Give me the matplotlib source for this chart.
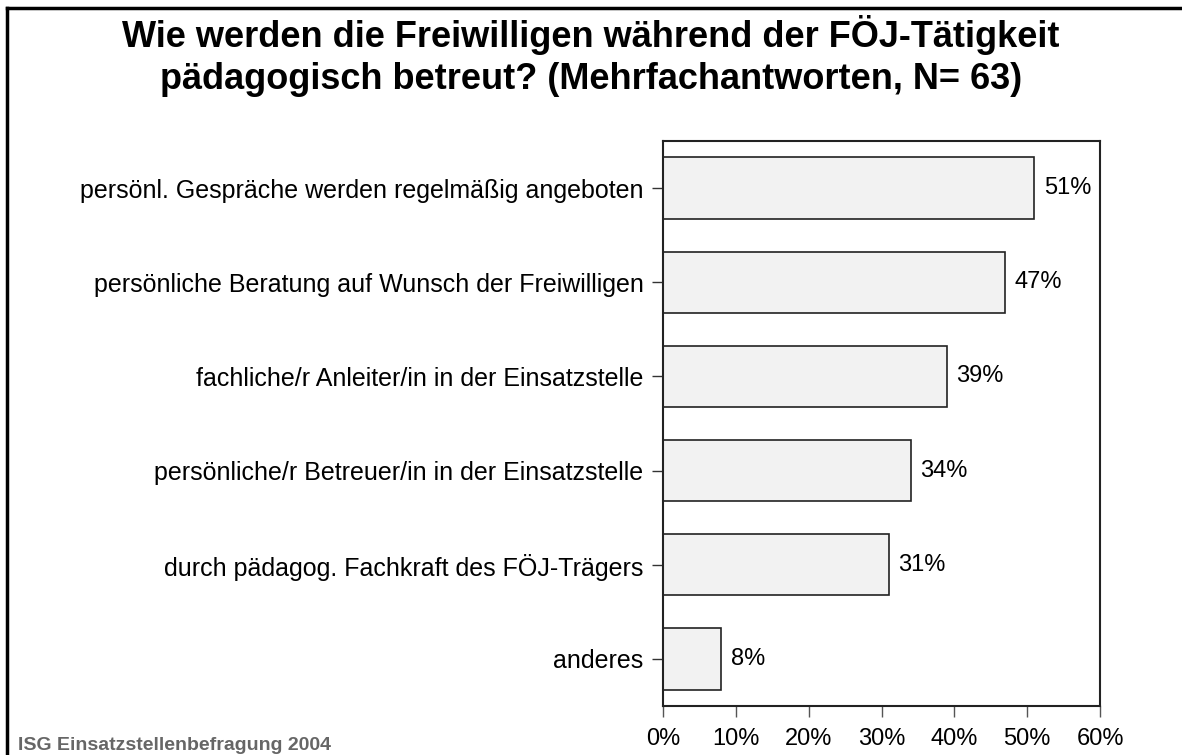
import matplotlib
matplotlib.use('Agg')
import matplotlib.pyplot as plt
from matplotlib.lines import Line2D

plt.rcParams['font.family'] = ['Liberation Sans', 'DejaVu Sans']

# donnees
kategorien = [
    'persönl. Gespräche werden regelmäßig angeboten',
    'persönliche Beratung auf Wunsch der Freiwilligen',
    'fachliche/r Anleiter/in in der Einsatzstelle',
    'persönliche/r Betreuer/in in der Einsatzstelle',
    'durch pädagog. Fachkraft des FÖJ-Trägers',
    'anderes',
]
werte = [51, 47, 39, 34, 31, 8]
x_ticks = [0, 10, 20, 30, 40, 50, 60]
titel_zeilen = ['Wie werden die Freiwilligen während der FÖJ-Tätigkeit',
                'pädagogisch betreut? (Mehrfachantworten, N= 63)']
quelle = 'ISG Einsatzstellenbefragung 2004'

W, H = 1182, 755
fig = plt.figure(figsize=(W / 100, H / 100), dpi=100)
ax = fig.add_axes([663 / W, (H - 706) / H, (1100 - 663) / W, (706 - 141) / H])

pos = list(range(len(kategorien)))
ax.barh(pos, werte, height=0.65, color='#f2f2f2', edgecolor='#222222', linewidth=1.2)

for p, v in zip(pos, werte):
    ax.text(v + 1.3, p, f'{v}%', va='center', ha='left', fontsize=17)

ax.set_ylim(len(kategorien) - 0.5, -0.5)
ax.set_xlim(0, 60)
ax.set_yticks(pos)
ax.set_yticklabels(kategorien, fontsize=18)
ax.set_xticks(x_ticks)
ax.set_xticklabels([f'{t}%' for t in x_ticks], fontsize=17)
ax.tick_params(axis='y', length=8, width=1, color='#333333', pad=6)
ax.tick_params(axis='x', length=8, width=1, color='#555555', pad=8)
for s in ax.spines.values():
    s.set_linewidth(1.5)
    s.set_color('#222222')

# titre
fig.text(0.5, 1 - 47 / H, titel_zeilen[0], ha='center', va='baseline',
         fontsize=26, fontweight='bold')
fig.text(0.5, 1 - 89 / H, titel_zeilen[1], ha='center', va='baseline',
         fontsize=26, fontweight='bold')

fig.text(18 / W, 1 - 750 / H, quelle, ha='left', va='baseline',
         fontsize=14, fontweight='bold', color='#666666')

# cadre exterieur (seulement haut et gauche visibles)
fig.add_artist(Line2D([7 / W, 1], [1 - 8 / H, 1 - 8 / H], transform=fig.transFigure,
                      color='black', linewidth=2.5))
fig.add_artist(Line2D([7 / W, 7 / W], [0, 1 - 8 / H], transform=fig.transFigure,
                      color='black', linewidth=2.5))

fig.savefig('out.png', dpi=100)
